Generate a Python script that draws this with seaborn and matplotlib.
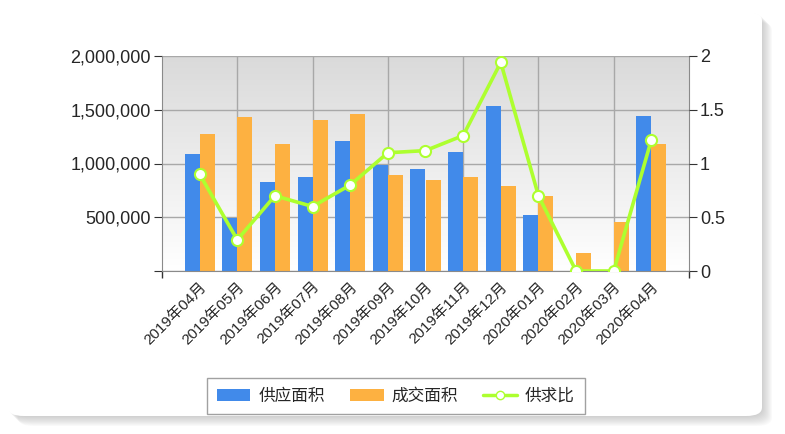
import numpy as np
import pandas as pd
import matplotlib
matplotlib.use('Agg')
import matplotlib.pyplot as plt
import matplotlib.transforms as mtransforms
import seaborn as sns
from matplotlib.patches import FancyBboxPatch, Patch
from matplotlib.lines import Line2D
from matplotlib.ticker import FixedLocator

# values
months = ['2019年04月', '2019年05月', '2019年06月', '2019年07月', '2019年08月',
          '2019年09月', '2019年10月', '2019年11月', '2019年12月', '2020年01月',
          '2020年02月', '2020年03月', '2020年04月']
supply = [1090000, 493000, 831000, 871000, 1209000, 989000, 949000,
          1104000, 1534000, 518000, 0, 0, 1444000]
deal = [1271000, 1430000, 1181000, 1405000, 1457000, 896000, 843000,
        871000, 794000, 700000, 166000, 452000, 1183000]
ratio = [0.9, 0.29, 0.7, 0.6, 0.8, 1.1, 1.12, 1.26, 1.94, 0.7, 0, 0, 1.22]

blue = '#418AEA'
orange = '#FDB141'
green = '#ADFF2F'

sns.set_style('white')
plt.rcParams['font.family'] = ['Liberation Sans', 'Noto Sans CJK SC']

df = pd.DataFrame({'月份': months * 2,
                   '面积': supply + deal,
                   '类型': ['供应面积'] * len(months) + ['成交面积'] * len(months)})

fig = plt.figure(figsize=(7.85, 4.34), dpi=100)
ax = fig.add_axes([162 / 785, 1 - 271 / 434, 527 / 785, 215 / 434])

#Card with soft shadow behind everything
W, H = 785, 434
for k in range(1, 11):
    sh = FancyBboxPatch(((8 + k) / W, (18 - k) / H), (762 - 8) / W, (422 - 18) / H,
                        boxstyle='round,pad=0,rounding_size=0.02',
                        transform=fig.transFigure, facecolor='#9a9a9a',
                        edgecolor='none', alpha=0.05, zorder=-5)
    fig.add_artist(sh)
card = FancyBboxPatch((8 / W, 18 / H), (762 - 8) / W, (422 - 18) / H,
                      boxstyle='round,pad=0,rounding_size=0.02',
                      transform=fig.transFigure, facecolor='white',
                      edgecolor='none', zorder=-4)
fig.add_artist(card)

sns.barplot(data=df, x='月份', y='面积', hue='类型', palette=[blue, orange],
            width=0.8, saturation=1, ax=ax, legend=False, zorder=2,
            linewidth=0, edgecolor='none')

# gray-to-white gradient in the plot area
grad = np.linspace(0, 1, 256).reshape(-1, 1)
ax.imshow(grad, extent=[-1, 13, 0, 2000000], aspect='auto', origin='upper',
          cmap=matplotlib.colors.LinearSegmentedColormap.from_list('g', ['#dadada', '#ffffff']),
          zorder=0)
ax.set_xlim(-1, 13)
ax.set_ylim(0, 2000000)

# the vertical grid falls on every second month
grid_x = [-1, 1, 3, 5, 7, 9, 11, 13]
ax.set_yticks([0, 500000, 1000000, 1500000, 2000000])
ax.set_yticklabels(['', '500,000', '1,000,000', '1,500,000', '2,000,000'], fontsize=13)
ax.set_xticks(range(len(months)))
ax.set_xticklabels(months, rotation=45, ha='right', rotation_mode='anchor', fontsize=11)
shift = mtransforms.ScaledTranslation(-5 / 100, 0, fig.dpi_scale_trans)
for lbl in ax.get_xticklabels():
    lbl.set_transform(lbl.get_transform() + shift)
ax.xaxis.set_minor_locator(FixedLocator(grid_x))
ax.tick_params(axis='x', which='major', length=0, pad=6, bottom=True)
ax.tick_params(axis='x', which='minor', length=5, width=1, color='#333333',
               direction='out', bottom=True)
ax.tick_params(axis='y', length=6, color='#333333', direction='out', pad=2, left=True)
ax.set_xlabel('')
ax.set_ylabel('')
ax.grid(axis='y', color='#a8a8a8', linewidth=1, zorder=1)
ax.vlines(grid_x[1:-1], 0, 2000000, color='#a8a8a8', linewidth=1, zorder=1)
for s in ['left', 'bottom', 'right']:
    ax.spines[s].set_color('#8a8a8a')
ax.spines['top'].set_visible(False)

# supply/demand ratio on the secondary axis
ax2 = ax.twinx()
sns.lineplot(x=range(len(months)), y=ratio, ax=ax2, color=green, linewidth=2.6,
             marker='o', markersize=8, markerfacecolor='white',
             markeredgecolor=green, markeredgewidth=1.5, zorder=3)
ax2.set_ylim(0, 2)
ax2.set_xlim(-1, 13)
ax2.set_yticks([0, 0.5, 1, 1.5, 2])
ax2.set_yticklabels(['0', '0.5', '1', '1.5', '2'], fontsize=13)
ax2.tick_params(axis='y', length=6, color='#333333', direction='out', pad=2, right=True)
for s in ['left', 'bottom', 'right', 'top']:
    ax2.spines[s].set_visible(False)

handles = [Patch(facecolor=blue, edgecolor='none', label='供应面积'),
           Patch(facecolor=orange, edgecolor='none', label='成交面积'),
           Line2D([0], [0], color=green, linewidth=2.5, marker='o', markersize=6,
                  markerfacecolor='white', markeredgecolor=green, label='供求比')]
leg = fig.legend(handles=handles, loc='center', bbox_to_anchor=(396 / W, 1 - 396 / H),
                 ncol=3, fontsize=12, frameon=True, fancybox=False,
                 handlelength=2.0, handleheight=0.8, handletextpad=0.5,
                 columnspacing=1.5, borderpad=0.6)
leg.get_frame().set_edgecolor('#8a8a8a')
leg.get_frame().set_linewidth(1)

fig.savefig('out.png', dpi=100)
